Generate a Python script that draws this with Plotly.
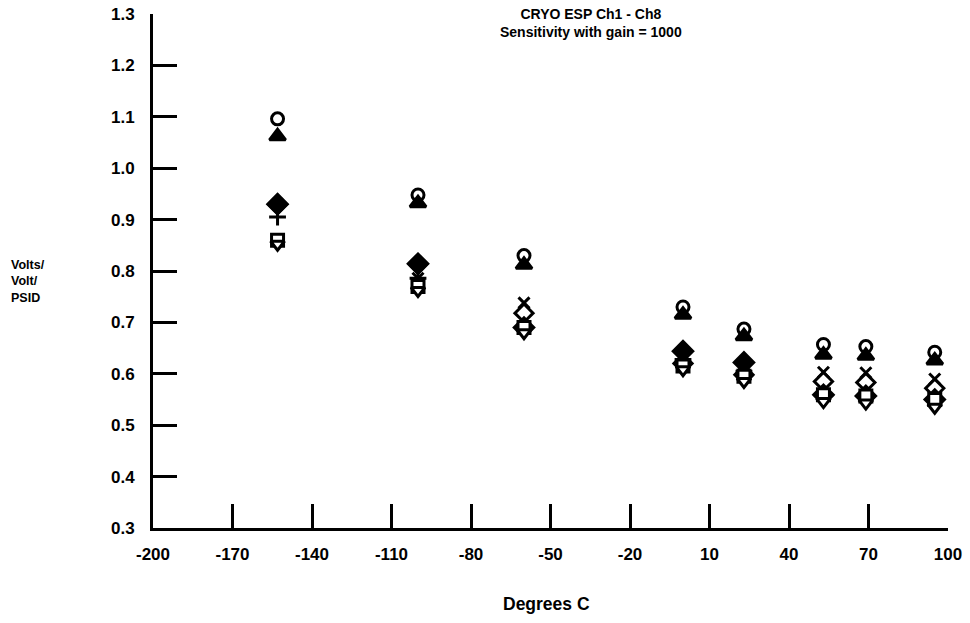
import plotly.graph_objects as go

temps = [-153, -100, -60, 0, 23, 53, 69, 95]

ch1_circle = [1.096, 0.948, 0.830, 0.730, 0.687, 0.657, 0.653, 0.642]
ch2_triangle = [1.062, 0.932, 0.812, 0.715, 0.673, 0.637, 0.635, 0.626]
ch3_diamond = [0.930, 0.814, 0.690, 0.644, 0.622, 0.559, 0.557, 0.550]
ch4_plus = [0.905, 0.786, 0.690, 0.628, 0.605, 0.559, 0.557, 0.550]
ch5_x = [0.930, 0.786, 0.738, 0.628, 0.600, 0.603, 0.602, 0.590]
ch6_odiamond = [0.930, 0.814, 0.718, 0.620, 0.598, 0.585, 0.583, 0.572]
ch7_square = [0.860, 0.770, 0.690, 0.615, 0.595, 0.559, 0.557, 0.550]
ch8_tdown = [0.852, 0.762, 0.680, 0.608, 0.585, 0.546, 0.543, 0.535]

x_ticks = [-200, -170, -140, -110, -80, -50, -20, 10, 40, 70, 100]
y_ticks = [0.3, 0.4, 0.5, 0.6, 0.7, 0.8, 0.9, 1.0, 1.1, 1.2, 1.3]

FONT = "Liberation Sans, Arial, sans-serif"

series = [
    ("Ch1", ch1_circle, "circle", "white", 12),
    ("Ch5", ch5_x, "x-thin", "black", 11),
    ("Ch6", ch6_odiamond, "diamond", "white", 14),
    ("Ch3", ch3_diamond, "diamond", "black", 15),
    ("Ch4", ch4_plus, "cross-thin", "black", 12),
    ("Ch7", ch7_square, "square", "white", 12),
    ("Ch8", ch8_tdown, "triangle-down", "white", 12),
    ("Ch2", ch2_triangle, "triangle-up", "black", 14),
]

L, R, T, B = 153, 22, 14, 95
W, H = 970, 623
PW, PH = W - L - R, H - T - B

fig = go.Figure()
for name, vals, sym, fill, size in series:
    fig.add_trace(go.Scatter(
        x=temps, y=vals, mode="markers", name=name,
        marker=dict(symbol=sym, size=size, color=fill,
                    line=dict(color="black", width=3)),
    ))

fig.update_layout(
    width=W, height=H,
    margin=dict(l=L, r=R, t=T, b=B, autoexpand=False),
    paper_bgcolor="white", plot_bgcolor="white",
    showlegend=False,
    font=dict(family=FONT, size=12, color="black"),
)

fig.update_xaxes(
    range=[-200, 100], tickvals=x_ticks, ticktext=[str(v) for v in x_ticks],
    showgrid=False, zeroline=False, showline=True, linecolor="black", linewidth=3,
    ticks="inside", ticklen=24, tickwidth=3, tickcolor="black",
    tickfont=dict(family=FONT, size=17, color="black", weight="bold"),
    ticklabelstandoff=9, automargin=False,
)
fig.update_yaxes(
    range=[0.3, 1.3], tickvals=y_ticks, ticktext=[f"{v:.1f}" for v in y_ticks],
    showgrid=False, zeroline=False, showline=True, linecolor="black", linewidth=3,
    ticks="inside", ticklen=24, tickwidth=3, tickcolor="black",
    tickfont=dict(family=FONT, size=17, color="black", weight="bold"),
    ticklabelstandoff=12, automargin=False,
)

fig.add_annotation(
    text="CRYO ESP Ch1 - Ch8<br>Sensitivity with gain = 1000",
    xref="paper", yref="paper", x=(591 - L) / PW, xanchor="center",
    y=(H - B - 4) / PH, yanchor="top",
    showarrow=False, font=dict(family=FONT, size=14, weight="bold"), align="center",
)
fig.add_annotation(
    text="Volts/<br>Volt/<br>PSID",
    xref="paper", yref="paper", x=(9 - L) / PW, xanchor="left",
    y=(H - B - 282) / PH, yanchor="middle",
    showarrow=False, font=dict(family=FONT, size=12.5, weight="bold"), align="left",
)
fig.add_annotation(
    text="Degrees C",
    xref="paper", yref="paper", x=(546 - L) / PW, xanchor="center",
    y=(H - B - 604) / PH, yanchor="middle",
    showarrow=False, font=dict(family=FONT, size=17.5, weight="bold"),
)

fig.write_html(
    "out.html",
    config={"displayModeBar": False},
    post_script="document.body.style.margin='0';document.body.style.overflow='hidden';",
)
